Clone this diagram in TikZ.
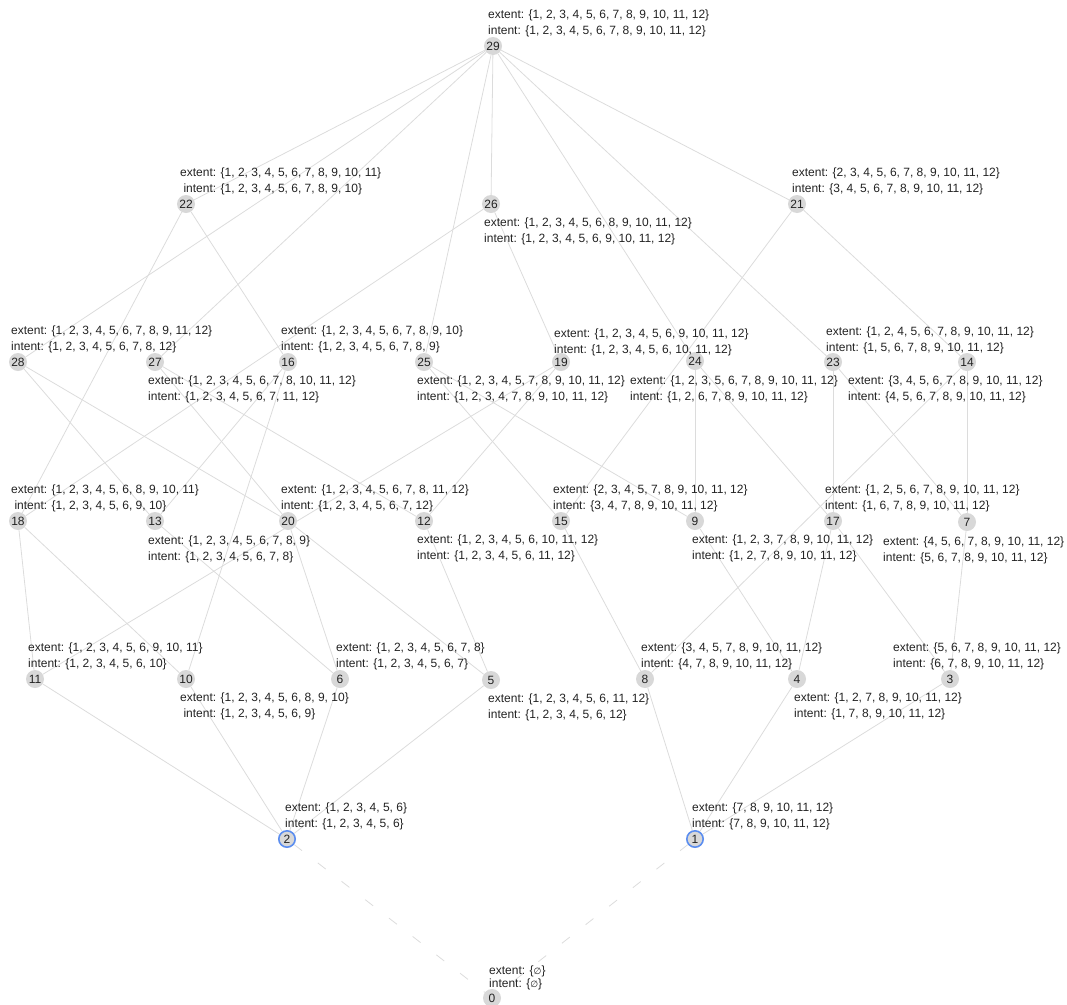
\documentclass[tikz,border=0pt]{standalone}
\usepackage{fontspec}
\setmainfont{Liberation Sans}
\newfontfamily\symfont{DejaVu Sans}
\usetikzlibrary{backgrounds}
\definecolor{Ink}{HTML}{222222}
\definecolor{Line}{HTML}{DCDCDC}
\definecolor{NodeFill}{HTML}{D8D8D8}
\definecolor{Focus}{HTML}{5B8DEF}
\newcommand\lbfont{\fontsize{12}{16.7}\selectfont}
\newcommand\nullset{{\symfont\fontsize{9}{12}\selectfont ∅}}
\tikzset{
  concept/.style={circle,fill=NodeFill,minimum size=18pt,inner sep=0pt,font=\lbfont,text=Ink},
  atom/.style={concept,draw=Focus,line width=1.6pt,minimum size=16.4pt},
  info/.style={anchor=base west,align=left,inner sep=0pt,font=\lbfont,text=Ink,yshift=-16.7pt},
  cover/.style={draw=Line,line width=0.8pt},
  bottomcover/.style={cover,dash pattern=on 10pt off 20pt}
}
\begin{document}
\begin{tikzpicture}[x=1pt,y=-1pt]
\useasboundingbox (0,0) rectangle (1067,1004);
% concepts, top to bottom
\node[concept] (n29) at (493,46) {29};
\node[concept] (n22) at (186,204) {22};
\node[concept] (n26) at (491,204) {26};
\node[concept] (n21) at (797,204) {21};
\node[concept] (n28) at (18,362) {28};
\node[concept] (n27) at (155,362) {27};
\node[concept] (n16) at (288,362) {16};
\node[concept] (n25) at (424,362) {25};
\node[concept] (n19) at (561,362) {19};
\node[concept] (n24) at (695,361) {24};
\node[concept] (n23) at (833,362) {23};
\node[concept] (n14) at (967,362) {14};
\node[concept] (n18) at (18,521) {18};
\node[concept] (n13) at (155,521) {13};
\node[concept] (n20) at (288,521) {20};
\node[concept] (n12) at (424,521) {12};
\node[concept] (n15) at (561,521) {15};
\node[concept] (n9) at (695,521) {9};
\node[concept] (n17) at (833,521) {17};
\node[concept] (n7) at (967,522) {7};
\node[concept] (n11) at (35,679) {11};
\node[concept] (n10) at (186,679) {10};
\node[concept] (n6) at (340,679) {6};
\node[concept] (n5) at (491,680) {5};
\node[concept] (n8) at (645,679) {8};
\node[concept] (n4) at (797,679) {4};
\node[concept] (n3) at (950,679) {3};
\node[atom] (n2) at (287,839) {2};
\node[atom] (n1) at (695,839) {1};
\node[concept] (n0) at (492,998) {0};

% extent / intent labels
\node[info] (l29) at (488,18) {extent: \{1, 2, 3, 4, 5, 6, 7, 8, 9, 10, 11, 12\}\\intent: \{1, 2, 3, 4, 5, 6, 7, 8, 9, 10, 11, 12\}};
\node[info] (l22) at (180,176) {extent: \{1, 2, 3, 4, 5, 6, 7, 8, 9, 10, 11\}\\\ intent: \{1, 2, 3, 4, 5, 6, 7, 8, 9, 10\}};
\node[info] (l26) at (484,226) {extent: \{1, 2, 3, 4, 5, 6, 8, 9, 10, 11, 12\}\\intent: \{1, 2, 3, 4, 5, 6, 9, 10, 11, 12\}};
\node[info] (l21) at (792,176) {extent: \{2, 3, 4, 5, 6, 7, 8, 9, 10, 11, 12\}\\intent: \{3, 4, 5, 6, 7, 8, 9, 10, 11, 12\}};
\node[info] (l28) at (11,334) {extent: \{1, 2, 3, 4, 5, 6, 7, 8, 9, 11, 12\}\\intent: \{1, 2, 3, 4, 5, 6, 7, 8, 12\}};
\node[info] (l27) at (148,384) {extent: \{1, 2, 3, 4, 5, 6, 7, 8, 10, 11, 12\}\\intent: \{1, 2, 3, 4, 5, 6, 7, 11, 12\}};
\node[info] (l16) at (281,334) {extent: \{1, 2, 3, 4, 5, 6, 7, 8, 9, 10\}\\intent: \{1, 2, 3, 4, 5, 6, 7, 8, 9\}};
\node[info] (l25) at (417,384) {extent: \{1, 2, 3, 4, 5, 7, 8, 9, 10, 11, 12\}\\intent: \{1, 2, 3, 4, 7, 8, 9, 10, 11, 12\}};
\node[info] (l19) at (554,337) {extent: \{1, 2, 3, 4, 5, 6, 9, 10, 11, 12\}\\intent: \{1, 2, 3, 4, 5, 6, 10, 11, 12\}};
\node[info] (l24) at (630,384) {extent: \{1, 2, 3, 5, 6, 7, 8, 9, 10, 11, 12\}\\intent: \{1, 2, 6, 7, 8, 9, 10, 11, 12\}};
\node[info] (l23) at (826,335) {extent: \{1, 2, 4, 5, 6, 7, 8, 9, 10, 11, 12\}\\intent: \{1, 5, 6, 7, 8, 9, 10, 11, 12\}};
\node[info] (l14) at (848,384) {extent: \{3, 4, 5, 6, 7, 8, 9, 10, 11, 12\}\\intent: \{4, 5, 6, 7, 8, 9, 10, 11, 12\}};
\node[info] (l18) at (11,493) {extent: \{1, 2, 3, 4, 5, 6, 8, 9, 10, 11\}\\\ intent: \{1, 2, 3, 4, 5, 6, 9, 10\}};
\node[info] (l13) at (148,544) {extent: \{1, 2, 3, 4, 5, 6, 7, 8, 9\}\\intent: \{1, 2, 3, 4, 5, 6, 7, 8\}};
\node[info] (l20) at (281,493) {extent: \{1, 2, 3, 4, 5, 6, 7, 8, 11, 12\}\\intent: \{1, 2, 3, 4, 5, 6, 7, 12\}};
\node[info] (l12) at (417,543) {extent: \{1, 2, 3, 4, 5, 6, 10, 11, 12\}\\intent: \{1, 2, 3, 4, 5, 6, 11, 12\}};
\node[info] (l15) at (553,493) {extent: \{2, 3, 4, 5, 7, 8, 9, 10, 11, 12\}\\intent: \{3, 4, 7, 8, 9, 10, 11, 12\}};
\node[info] (l9) at (692,543) {extent: \{1, 2, 3, 7, 8, 9, 10, 11, 12\}\\intent: \{1, 2, 7, 8, 9, 10, 11, 12\}};
\node[info] (l17) at (825,493) {extent: \{1, 2, 5, 6, 7, 8, 9, 10, 11, 12\}\\intent: \{1, 6, 7, 8, 9, 10, 11, 12\}};
\node[info] (l7) at (883,545) {extent: \{4, 5, 6, 7, 8, 9, 10, 11, 12\}\\intent: \{5, 6, 7, 8, 9, 10, 11, 12\}};
\node[info] (l11) at (28,651) {extent: \{1, 2, 3, 4, 5, 6, 9, 10, 11\}\\intent: \{1, 2, 3, 4, 5, 6, 10\}};
\node[info] (l10) at (180,701) {extent: \{1, 2, 3, 4, 5, 6, 8, 9, 10\}\\\ intent: \{1, 2, 3, 4, 5, 6, 9\}};
\node[info] (l6) at (336,651) {extent: \{1, 2, 3, 4, 5, 6, 7, 8\}\\intent: \{1, 2, 3, 4, 5, 6, 7\}};
\node[info] (l5) at (488,702) {extent: \{1, 2, 3, 4, 5, 6, 11, 12\}\\intent: \{1, 2, 3, 4, 5, 6, 12\}};
\node[info] (l8) at (641,651) {extent: \{3, 4, 5, 7, 8, 9, 10, 11, 12\}\\intent: \{4, 7, 8, 9, 10, 11, 12\}};
\node[info] (l4) at (794,701) {extent: \{1, 2, 7, 8, 9, 10, 11, 12\}\\intent: \{1, 7, 8, 9, 10, 11, 12\}};
\node[info] (l3) at (893,651) {extent: \{5, 6, 7, 8, 9, 10, 11, 12\}\\intent: \{6, 7, 8, 9, 10, 11, 12\}};
\node[info] (l2) at (285,811) {extent: \{1, 2, 3, 4, 5, 6\}\\intent: \{1, 2, 3, 4, 5, 6\}};
\node[info] (l1) at (692,811) {extent: \{7, 8, 9, 10, 11, 12\}\\intent: \{7, 8, 9, 10, 11, 12\}};
\node[info,font=\fontsize{12}{13.3}\selectfont,yshift=3.4pt] (l0) at (489,974) {extent: \{\nullset\}\\intent: \{\nullset\}};

% cover relations
\begin{scope}[on background layer]
\foreach \a/\b in {29/22,29/26,29/21,29/28,29/27,29/25,29/24,29/23,
  22/16,22/18,26/19,26/18,21/14,21/15,
  28/13,28/20,27/20,27/12,16/13,16/10,25/15,25/9,19/12,19/11,
  24/17,24/9,23/17,23/7,14/7,14/8,
  18/11,18/10,13/6,20/6,20/5,12/5,15/8,9/4,17/4,17/3,7/3,
  11/2,10/2,6/2,5/2,8/1,4/1,3/1}
  \draw[cover] (n\a) -- (n\b);
\draw[bottomcover] (n2) -- (n0);
\draw[bottomcover] (n1) -- (n0);
\end{scope}
\end{tikzpicture}
\end{document}
